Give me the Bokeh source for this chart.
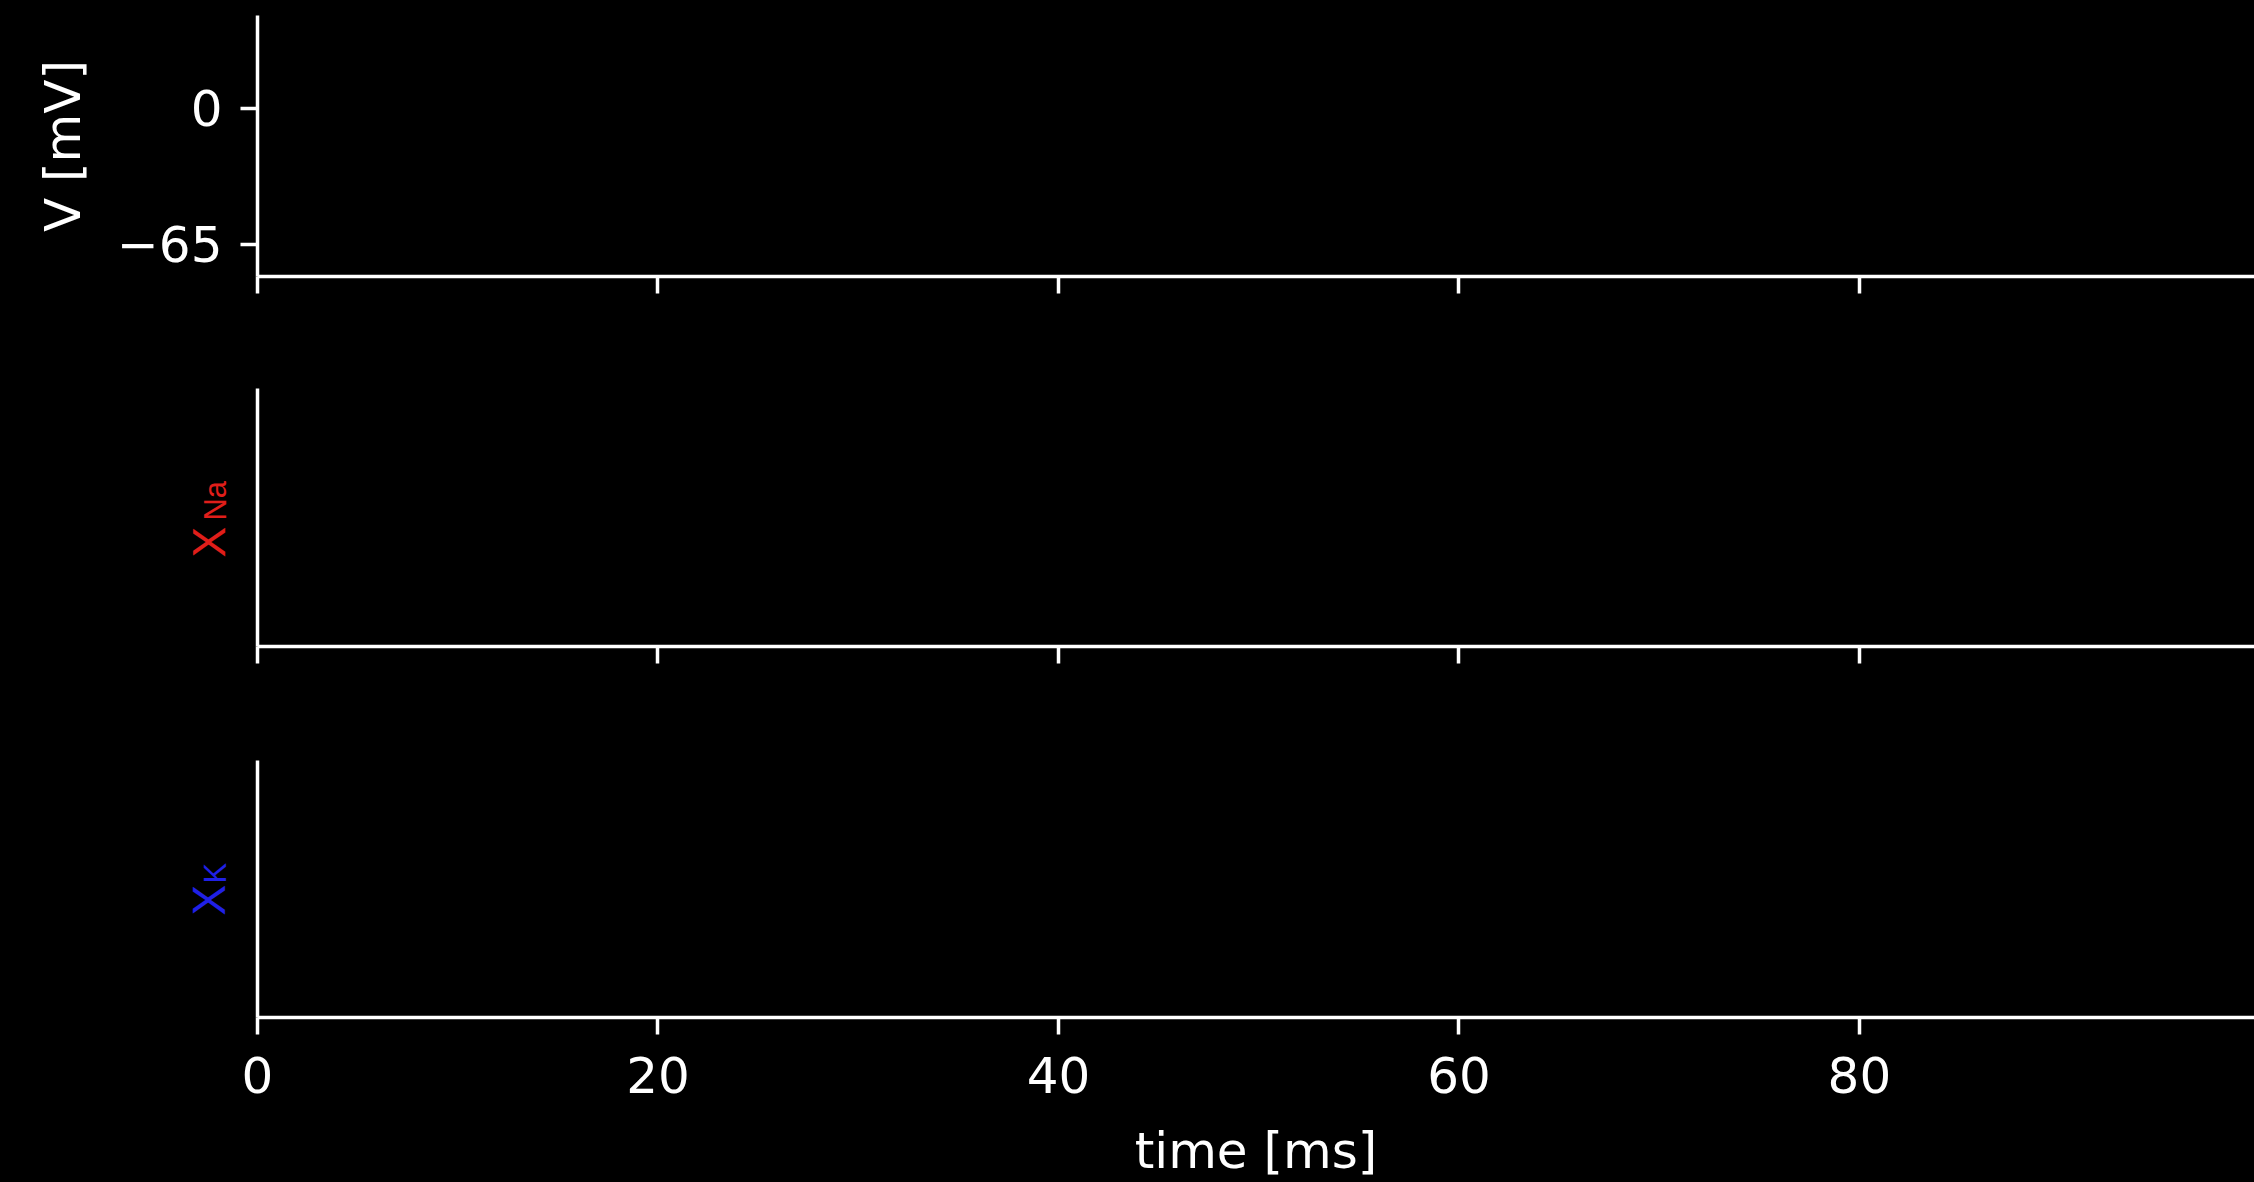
import math
from bokeh.plotting import figure
from bokeh.layouts import column
from bokeh.models import Range1d, FixedTicker, Label, GlobalInlineStyleSheet
from bokeh.embed import file_html
from bokeh.resources import INLINE

# ---- data / text ----
time_ticks = [0, 20, 40, 60, 80]
time_range = [0, 99.73]
v_ticks = [-65, 0]
v_tick_labels = {-65: "\u221265", 0: "0"}
v_range = [-80.3, 44.4]
gate_range = [0, 1]
x_label = "time [ms]"
v_label = "V [mV]"
na_label = ["X", "Na"]
k_label = ["X", "K"]
na_color = "#e01e1a"
k_color = "#2020e6"

FONT = "DejaVu Sans"
FS = "50px"
W = 2254
LEFT = 257            # width reserved left of the spine
PX_PER_MS = (W - LEFT) / time_range[1]
LW = 3.5

xr = Range1d(*time_range)


def style_axis(ax):
    ax.axis_line_color = "white"
    ax.axis_line_width = LW
    ax.major_tick_line_color = "white"
    ax.major_tick_line_width = LW
    ax.major_tick_out = 17
    ax.major_tick_in = 0
    ax.minor_tick_line_color = None
    ax.major_label_text_color = "white"
    ax.major_label_text_font = FONT
    ax.major_label_text_font_size = FS
    ax.axis_label_text_color = "white"
    ax.axis_label_text_font = FONT
    ax.axis_label_text_font_size = FS
    ax.axis_label_text_font_style = "normal"


def base_fig(h, top, bottom, yr):
    p = figure(width=W, height=h, x_range=xr, y_range=yr,
               output_backend="svg", toolbar_location=None,
               min_border_left=LEFT, min_border_right=0,
               min_border_top=top, min_border_bottom=bottom,
               background_fill_color="black", border_fill_color="black",
               outline_line_color=None)
    p.grid.visible = False
    style_axis(p.xaxis[0])
    style_axis(p.yaxis[0])
    p.xaxis.ticker = FixedTicker(ticks=time_ticks)
    return p


# ---- top panel: membrane voltage ----
p1 = base_fig(332, 15, 56, Range1d(*v_range))
p1.xaxis.major_label_text_color = None
p1.xaxis.major_label_text_font_size = "0px"
p1.yaxis.ticker = FixedTicker(ticks=v_ticks)
p1.yaxis.major_label_overrides = v_tick_labels
p1.yaxis.major_label_standoff = 18
p1.yaxis.axis_label = v_label
p1.yaxis.axis_label_standoff = 22


def gate_fig(h, top, bottom, parts, color, y_main, y_sub):
    p = base_fig(h, top, bottom, Range1d(*gate_range))
    p.yaxis.ticker = FixedTicker(ticks=[])
    p.yaxis.major_label_text_color = None
    p.yaxis.major_label_text_font_size = "0px"
    main, sub = parts
    p.add_layout(Label(x=-49 / PX_PER_MS, y=y_main, text=main, angle=math.pi / 2,
                       text_align="left", text_baseline="alphabetic",
                       text_font="Liberation Sans", text_font_size="46px",
                       text_color=color), "left")
    p.add_layout(Label(x=-42 / PX_PER_MS, y=y_sub, text=sub, angle=math.pi / 2,
                       text_align="left", text_baseline="alphabetic",
                       text_font="Liberation Sans", text_font_size="31px",
                       text_color=color), "left")
    return p


p2 = gate_fig(371, 56, 57, na_label, na_color, 0.345, 0.488)
p2.xaxis.major_label_text_color = None
p2.xaxis.major_label_text_font_size = "0px"

p3 = gate_fig(479, 57, 165, k_label, k_color, 0.397, 0.521)
p3.xaxis.major_label_standoff = 22
p3.xaxis.axis_label = x_label
p3.xaxis.axis_label_standoff = 26

layout = column(p1, p2, p3, spacing=0,
                stylesheets=[GlobalInlineStyleSheet(css="html, body { background: #000; }")])

open("out.html", "w").write(file_html(layout, INLINE))
